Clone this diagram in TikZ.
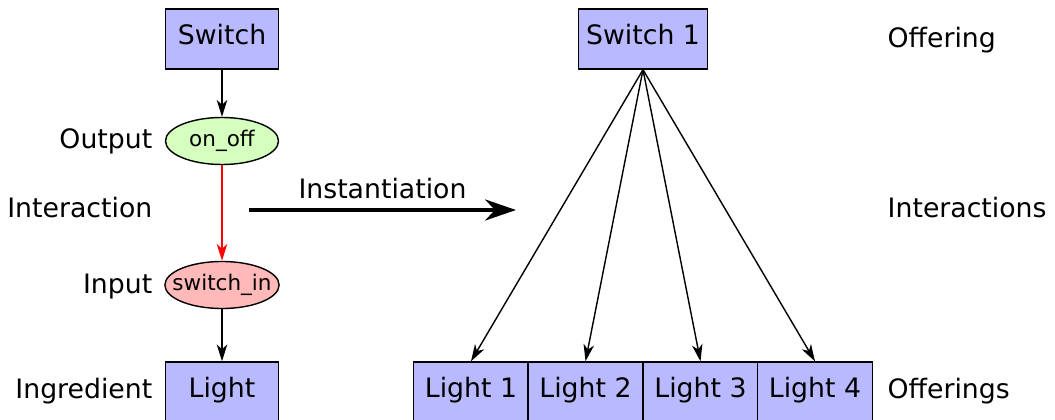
\documentclass[tikz,border=0pt]{standalone}
\usepackage{fontspec}
\setmainfont{DejaVu Sans}
\usepackage{tikz}
\usetikzlibrary{arrows.meta, shapes.geometric}
\definecolor{boxblue}{RGB}{185,185,255}
\definecolor{outgreen}{RGB}{213,255,191}
\definecolor{inred}{RGB}{255,185,185}
\begin{document}
\begin{tikzpicture}[x=0.025cm, y=-0.025cm, line width=1pt,
    every node/.style={font=\fontsize{19}{22}\selectfont},
    box/.style={rectangle, draw, fill=boxblue, minimum width=2.825cm, minimum height=1.5cm,
      text height=0.73em, text depth=0pt, inner sep=0pt},
    port/.style={ellipse, draw, minimum width=2.825cm, minimum height=1.175cm, inner sep=0pt,
      font=\fontsize{15.3}{18}\selectfont, text height=0.73em, text depth=0pt},
    lbl/.style={inner sep=0pt},
    arr/.style={-{Stealth[length=12pt, width=7.5pt, inset=3.5pt]}}]
  \useasboundingbox (0,0) rectangle (1055,420);
  % left side
  \node (sw) [box] at (222, 39) {Switch};
  \node (out) [port, fill=outgreen] at (222, 141) {on\_off};
  \node (in) [port, fill=inred, inner xsep=-6.5pt] at (222, 285) {switch\_in};
  \node (li) [box] at (222, 392) {Light};
  \node [lbl, anchor=base east] at (153, 149) {Output};
  \node [lbl, anchor=base east] at (153, 218) {Interaction};
  \node [lbl, anchor=base east] at (153, 293) {Input};
  \node [lbl, anchor=base east] at (153, 398) {Ingredient};
  \draw [arr] (sw) -- (out);
  \draw [arr, red] (out) -- (in);
  \draw [arr] (in) -- (li);
  % instantiation
  \coordinate (i1) at (249, 210);
  \coordinate (i2) at (516, 210);
  \draw [line width=2.2pt, -{Stealth[length=22pt, width=15pt, inset=7pt]}] (i1) -- (i2)
    node [midway, above, lbl, yshift=7pt] {Instantiation};
  % right side
  \node (s1) [box, minimum width=3.225cm] at (643, 39) {Switch 1};
  \node (l1) [box, minimum width=2.875cm] at (471, 392) {Light 1};
  \node (l2) [box, minimum width=2.875cm] at (585.5, 392) {Light 2};
  \node (l3) [box, minimum width=2.875cm] at (700.5, 392) {Light 3};
  \node (l4) [box, minimum width=2.875cm] at (815, 392) {Light 4};
  \node [lbl, anchor=base west] at (887, 48) {Offering};
  \node [lbl, anchor=base west] at (887, 218) {Interactions};
  \node [lbl, anchor=base west] at (887, 398) {Offerings};
  \foreach \i in {1,...,4}
    \draw [arr] (s1.south) -- (l\i.north);
\end{tikzpicture}
\end{document}
